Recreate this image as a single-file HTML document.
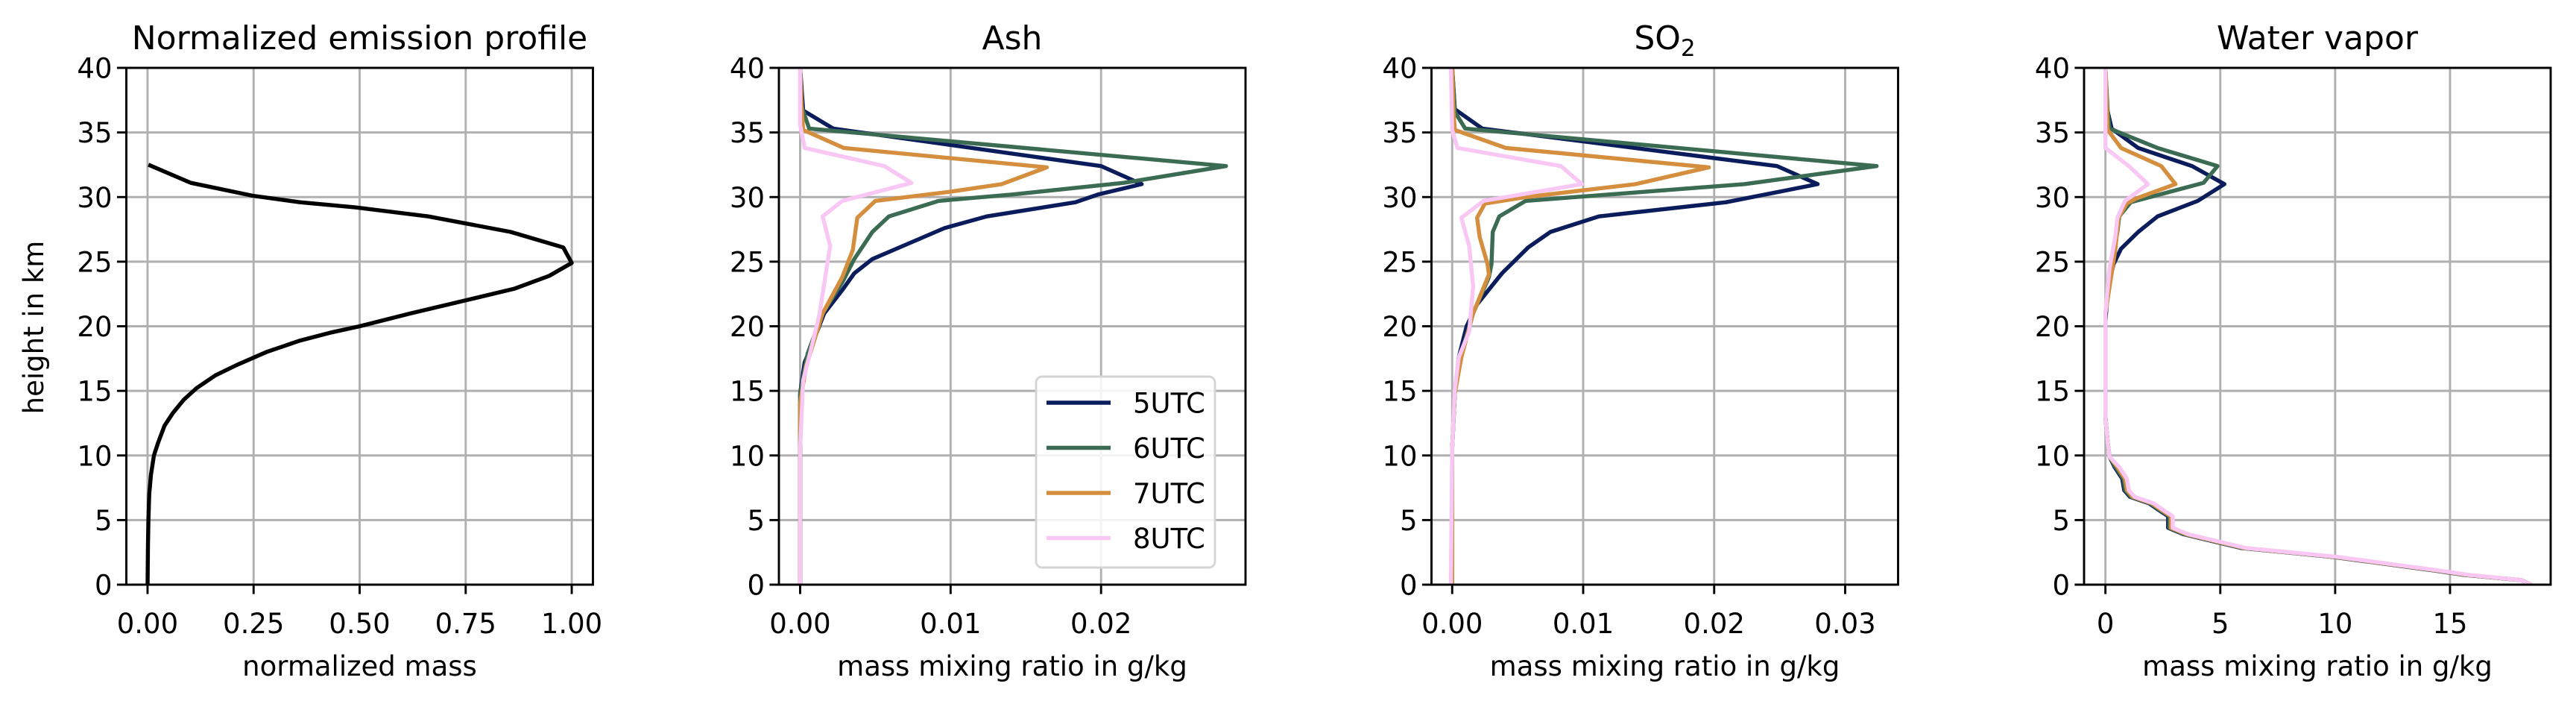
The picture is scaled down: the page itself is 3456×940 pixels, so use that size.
<!DOCTYPE html>
<html><head><meta charset="utf-8">
<style>
html,body{margin:0;padding:0;background:#fff;}
svg{display:block;font-family:"DejaVu Sans","Liberation Sans",sans-serif;}
</style></head>
<body>
<svg id="chart" width="3456" height="940" viewBox="0 0 3456 940" xmlns="http://www.w3.org/2000/svg"></svg>
<script>
// ---- data ----
const heightTicks = [0,5,10,15,20,25,30,35,40];
const seriesNames = ["5UTC","6UTC","7UTC","8UTC"];
const seriesColors = ["#0b1c5c","#3b6b52","#d48e3e","#f8c7f3"];

// Emission profile
const emisX = [0,0.001,0.002,0.004,0.008,0.015,0.025,0.04,0.06,0.085,0.115,0.16,0.21,0.28,0.36,0.43,0.5,0.62,0.762,0.864,0.947,1.0,0.98,0.856,0.662,0.49,0.359,0.248,0.102,0.002];
const emisY = [0,3,5,7,8.5,10,11,12.3,13.3,14.3,15.2,16.2,17,18,18.9,19.5,20,21,22.1,22.9,23.9,24.9,26.1,27.3,28.5,29.2,29.6,30.1,31.1,32.5];

// Ash
const ash5X = [0,0,0,0.0003,0.0009,0.0016,0.0028,0.0036,0.0048,0.0066,0.0096,0.0124,0.0183,0.0198,0.0227,0.02,0.0022,0.0002,0];
const ash5Y = [0,10,14.8,17.2,18.9,21.0,22.8,24.1,25.2,26.1,27.6,28.5,29.6,30.2,31.0,32.4,35.3,36.7,40];
const ash6X = [0,0,0,0.0005,0.0015,0.0028,0.0036,0.0048,0.0059,0.0092,0.0141,0.0215,0.0283,0.0006,0.0001,0];
const ash6Y = [0,10,14.8,17.9,21.0,23.4,25.2,27.3,28.5,29.7,30.2,31.1,32.4,35.3,37,40];
const ash7X = [0,0,0,0.0004,0.0015,0.0028,0.0035,0.0038,0.005,0.0099,0.0134,0.0164,0.0029,0.0002,0.0001,0];
const ash7Y = [0,10,14.1,16.9,21,23.8,25.9,28.4,29.7,30.4,31.0,32.3,33.8,35.2,36.9,40];
const ash8X = [0,0,0.0002,0.0008,0.0013,0.0018,0.002,0.0015,0.0028,0.0074,0.0056,0.0003,0,0];
const ash8Y = [0,10.6,15.8,18.6,21.0,24.8,26.2,28.5,29.7,31.1,32.4,33.8,35.6,40];

// SO2
const so5X = [0,0,0.0002,0.0005,0.0011,0.0019,0.0038,0.0058,0.0075,0.0112,0.0209,0.0254,0.0279,0.0248,0.0023,0.0002,0];
const so5Y = [0,10.6,14.8,17.6,20,21.7,24.1,26.1,27.3,28.5,29.6,30.5,31.0,32.4,35.3,36.8,40];
const so6X = [0,0,0.0002,0.0007,0.0016,0.0028,0.003,0.0031,0.0036,0.0056,0.0223,0.0324,0.001,0.0002,0];
const so6Y = [0,10.6,14.8,17.9,21,23.8,24.8,27.3,28.5,29.7,31.0,32.4,35.3,36.6,40];
const so7X = [0,0,0.0002,0.0007,0.0016,0.0028,0.0027,0.0021,0.0019,0.0025,0.0056,0.014,0.0196,0.0041,0.0002,0.0001,0];
const so7Y = [0,10.6,14.8,17.6,21,24.0,24.8,26.9,28.4,29.5,30.0,31.0,32.3,33.8,35.2,36.6,40];
const so8X = [-0.0001,0,0.0002,0.0005,0.0013,0.0016,0.0013,0.0007,0.0024,0.0099,0.0083,0.0004,0,-0.0001];
const so8Y = [0,10.6,15.1,17.6,19.6,23.1,26.2,28.4,29.7,31.0,32.4,33.8,35.2,40];

// Water vapor (lower troposphere shared shape, slight offsets per series)
const wvLowX = [18.53,18.1,15.8,14.5,10.1,6.1,3.6,2.93,2.93,2.5,2.1,1.27,1.02,0.93,0.6,0.18,0.1,0];
const wvLowY = [0,0.35,0.76,1.1,2.15,2.84,3.9,4.4,5.3,5.8,6.3,6.8,7.3,8.2,9.1,9.9,11,13];
const wvOffset = [-0.2,-0.15,-0.08,0];
const wv5X = [0,0.1,0.35,0.68,1.43,2.27,4.02,5.18,3.77,1.43,0.27,0.05,0];
const wv5Y = [20.3,22.8,24.8,26.0,27.3,28.5,29.7,31.0,32.4,33.8,35.3,37,40];
const wv6X = [0,0.27,0.52,0.6,1.1,4.27,4.88,2.27,0.18,0.1,0];
const wv6Y = [21,24.8,27.3,28.5,29.6,31.1,32.4,33.8,35.3,36.6,40];
const wv7X = [0,0.43,0.57,0.93,1.35,3.05,2.43,0.68,0.1,0];
const wv7Y = [21,25.9,28.4,29.5,29.9,31,32.4,33.8,35.2,40];
const wv8X = [0,0.18,0.43,0.52,0.85,1.85,1.02,0,0];
const wv8Y = [21,24.5,26.9,28.4,29.7,31,32.4,33.8,40];

const panelTitles = ["Normalized emission profile","Ash","SO2","Water vapor"];
const xTicksP1 = [0,0.25,0.5,0.75,1.0];
const xTickLabelsP1 = ["0.00","0.25","0.50","0.75","1.00"];
const xTicksP2 = [0,0.01,0.02];
const xTickLabelsP2 = ["0.00","0.01","0.02"];
const xTicksP3 = [0,0.01,0.02,0.03];
const xTickLabelsP3 = ["0.00","0.01","0.02","0.03"];
const xTicksP4 = [0,5,10,15];
const xTickLabelsP4 = ["0","5","10","15"];

// ---- layout ----
const NS = "http://www.w3.org/2000/svg";
const svg = document.getElementById("chart");
const TOP = 91, H = 693, W = 626;
const LEFTS = [169.5,1045,1920.5,2796];
const XLIMS = [[-0.05,1.05],[-0.00141,0.0296],[-0.00158,0.03404],[-0.93,19.38]];

function mk(tag, attrs, parent){
  const e = document.createElementNS(NS, tag);
  for (const k in attrs) e.setAttribute(k, attrs[k]);
  (parent||svg).appendChild(e);
  return e;
}
function yScale(v){ return TOP + H - v/40*H; }
function xScaleFor(p){ const [a,b]=XLIMS[p]; return v => LEFTS[p] + (v-a)/(b-a)*W; }

function drawPanel(p, ticks, labels, xlabel){
  const g = mk("g",{});
  
  
  const xs = xScaleFor(p), L = LEFTS[p];
  ticks.forEach((t,i)=>{
    const x = xs(t);
    const gl = mk("line",{x1:x,x2:x,y1:TOP,y2:TOP+H,stroke:"#b0b0b0","stroke-width":2.9},g);
    
    
    mk("line",{x1:x,x2:x,y1:TOP+H,y2:TOP+H+12.6,stroke:"#000","stroke-width":2.9},g);
    const tl = mk("text",{x:x,y:849,"font-size":37,"text-anchor":"middle",fill:"#000"},g);
    tl.textContent = labels[i];
    
    
  });
  heightTicks.forEach(t=>{
    const y = yScale(t);
    const gl = mk("line",{x1:L,x2:L+W,y1:y,y2:y,stroke:"#b0b0b0","stroke-width":2.9},g);
    
    
    mk("line",{x1:L-12.6,x2:L,y1:y,y2:y,stroke:"#000","stroke-width":2.9},g);
    const tl = mk("text",{x:L-19,y:y+13.5,"font-size":37,"text-anchor":"end",fill:"#000"},g);
    tl.textContent = String(t);
    
    
  });
  const xl = mk("text",{x:L+W/2,y:906,"font-size":37,"text-anchor":"middle",fill:"#000"},g);
  xl.textContent = xlabel;
  
  
  const tt = mk("text",{x:L+W/2,y:66,"font-size":44,"text-anchor":"middle",fill:"#000"},g);
  if (p===2){
    tt.textContent = "SO";
    const sub = mk("tspan",{"font-size":31,dy:9},tt);
    sub.textContent = "2";
  } else tt.textContent = panelTitles[p];
  
  
  return g;
}
function drawLine(p, X, Y, color, name, g){
  const xs = xScaleFor(p);
  const pts = X.map((v,i)=> xs(v).toFixed(1)+","+yScale(Y[i]).toFixed(1)).join(" ");
  const pl = mk("polyline",{points:pts,fill:"none",stroke:color,"stroke-width":5.4,"stroke-linejoin":"round","clip-path":"url(#clip"+p+")"},g);
  
  
}
function frame(p,g){
  const r = mk("rect",{x:LEFTS[p],y:TOP,width:W,height:H,fill:"none",stroke:"#000","stroke-width":2.9},g);
  
  
}
const defs = mk("defs",{});
for (let p=0;p<4;p++){
  const c = mk("clipPath",{id:"clip"+p},defs);
  mk("rect",{x:LEFTS[p],y:TOP,width:W,height:H},c);
}

// Panel 1
let g = drawPanel(0, xTicksP1, xTickLabelsP1, "normalized mass");
drawLine(0, emisX, emisY, "#000", "emission-profile-line", g);
frame(0,g);
const yl = mk("text",{x:0,y:0,"font-size":37,"text-anchor":"middle",fill:"#000",transform:"translate(58,439) rotate(-90)"});
yl.textContent = "height in km";



// Panel 2 Ash
g = drawPanel(1, xTicksP2, xTickLabelsP2, "mass mixing ratio in g/kg");
[[ash5X,ash5Y],[ash6X,ash6Y],[ash7X,ash7Y],[ash8X,ash8Y]].forEach((s,i)=>drawLine(1,s[0],s[1],seriesColors[i],"ash-"+seriesNames[i].toLowerCase()+"-line",g));
frame(1,g);
// legend
const lg = mk("g",{});


mk("rect",{x:1390,y:505,width:240,height:256,rx:8,fill:"#fff","fill-opacity":0.85,stroke:"#d5d5d5","stroke-width":2.9},lg);
seriesNames.forEach((n,i)=>{
  const y = 540 + i*60.5;
  const ln = mk("line",{x1:1404,x2:1490,y1:y,y2:y,stroke:seriesColors[i],"stroke-width":5.4},lg);
  
  
  const t = mk("text",{x:1520,y:y+13.5,"font-size":37,fill:"#000"},lg);
  t.textContent = n;
  
  
});

// Panel 3 SO2
g = drawPanel(2, xTicksP3, xTickLabelsP3, "mass mixing ratio in g/kg");
[[so5X,so5Y],[so6X,so6Y],[so7X,so7Y],[so8X,so8Y]].forEach((s,i)=>drawLine(2,s[0],s[1],seriesColors[i],"so2-"+seriesNames[i].toLowerCase()+"-line",g));
frame(2,g);

// Panel 4 Water vapor
g = drawPanel(3, xTicksP4, xTickLabelsP4, "mass mixing ratio in g/kg");
[[wv5X,wv5Y],[wv6X,wv6Y],[wv7X,wv7Y],[wv8X,wv8Y]].forEach((s,i)=>{
  const X = wvLowX.map(v=> v>0.5 && v<18 ? v+wvOffset[i] : v).concat(s[0]);
  const Y = wvLowY.concat(s[1]);
  drawLine(3,X,Y,seriesColors[i],"water-vapor-"+seriesNames[i].toLowerCase()+"-line",g);
});
frame(3,g);
</script>
</body></html>
